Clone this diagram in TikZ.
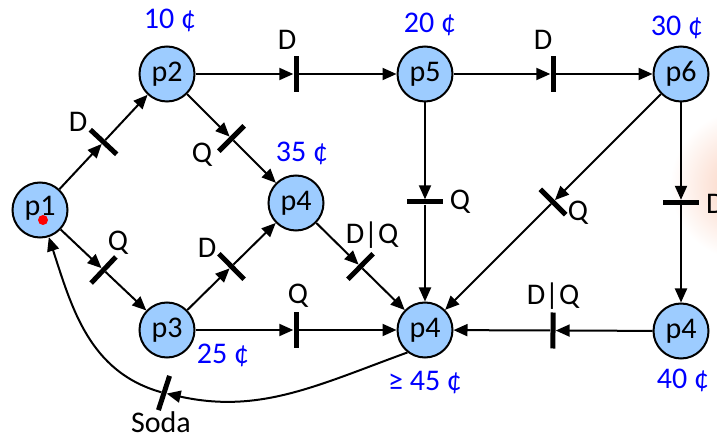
\documentclass[tikz,border=0pt]{standalone}
\usepackage{fontspec}
\setmainfont{Carlito}
\usetikzlibrary{arrows.meta,calc}
\definecolor{placefill}{RGB}{157,204,255}
\definecolor{blobc}{RGB}{250,205,185}
\begin{document}
\begin{tikzpicture}[x=1pt,y=1pt,
  place/.style={circle,draw,line width=2pt,fill=placefill,minimum size=55pt,inner sep=0pt,font=\fontsize{30}{32}\selectfont},
  trans/.style={rectangle,fill=black,inner sep=0pt,minimum width=5pt,minimum height=36pt},
  arr/.style={line width=2pt,-{Triangle[length=14pt,width=12pt]}},
  lbl/.style={font=\fontsize{30}{32}\selectfont,inner sep=0pt},
  cost/.style={lbl,text=blue}]
\useasboundingbox (0,0) rectangle (717,-435);
\begin{scope}
\clip (0,0) rectangle (717,-435);
\shade[inner color=blobc,outer color=white] (745,-185) circle (75);
\end{scope}

% places
\node[place] (p1) at (40,-210) {\raisebox{8pt}{p1}};
\node[place] (p2) at (167,-74) {p2};
\node[place] (p5) at (425,-74) {p5};
\node[place] (p6) at (681,-74) {p6};
\node[place] (pm) at (296,-203) {p4};
\node[place] (p3) at (167,-330) {p3};
\node[place] (pb) at (425,-330) {p4};
\node[place] (pr) at (681,-331) {p4};
\node[circle,fill=red,inner sep=0pt,minimum size=10pt] (dot) at (43,-220) {};

% transitions
\path (p1) -- node[trans,sloped] (t12) {} (p2);
\path (p2) -- node[trans,sloped] (t25) {} (p5);
\path (p5) -- node[trans,sloped] (t56) {} (p6);
\path (p2) -- node[trans,sloped] (t2m) {} (pm);
\path (p1) -- node[trans,sloped] (t13) {} (p3);
\path (p3) -- node[trans,sloped] (t3m) {} (pm);
\path (p3) -- node[trans,sloped] (t3b) {} (pb);
\path (pm) -- node[trans,sloped] (tmb) {} (pb);
\path (p5) -- node[trans,sloped] (t5b) {} (pb);
\path (p6) -- node[trans,sloped] (t6b) {} (pb);
\path (p6) -- node[trans,sloped] (t6r) {} (pr);
\path (pr) -- node[trans,sloped] (trb) {} (pb);
\node[trans,rotate=-18] (ts) at (164,-393) {};

% arcs
\foreach \a/\t/\b in {p1/t12/p2, p2/t25/p5, p5/t56/p6, p2/t2m/pm, p1/t13/p3, p3/t3m/pm,
  p3/t3b/pb, pm/tmb/pb, p5/t5b/pb, p6/t6b/pb, p6/t6r/pr, pr/trb/pb}{
  \draw[arr] (\a) -- (\t);
  \draw[arr] (\t) -- (\b);
}
\draw[arr] (pb.232) to[out=200,in=-12] (ts);
\draw[arr] (ts) to[out=165,in=-72] (p1);

% transition labels
\node[lbl] (l12) at (78,-122) {D};
\node[lbl] (l25) at (287,-40) {D};
\node[lbl] (l56) at (543,-40) {D};
\node[lbl] (l2m) at (202,-155) {Q};
\node[lbl] (l13) at (118,-243) {Q};
\node[lbl] (l3m) at (207,-248) {D};
\node[lbl] (l3b) at (298,-296) {Q};
\node[lbl] (lmb) at (372,-235) {D|Q};
\node[lbl] (l5b) at (460,-202) {Q};
\node[lbl] (l6b) at (578,-213) {Q};
\node[lbl,anchor=west] (l6r) at (706,-204) {D};
\node[lbl] (lrb) at (553,-296) {D|Q};
\node[lbl] (ls) at (161,-422) {Soda};

% costs
\node[cost] (c2) at (170,-20) {10 ¢};
\node[cost] (c5) at (430,-24) {20 ¢};
\node[cost] (c6) at (677,-27) {30 ¢};
\node[cost] (cm) at (302,-153) {35 ¢};
\node[cost] (c3) at (223,-355) {25 ¢};
\node[cost] (cb) at (425,-383) {≥ 45 ¢};
\node[cost] (cr) at (683,-380) {40 ¢};
\end{tikzpicture}
\end{document}
